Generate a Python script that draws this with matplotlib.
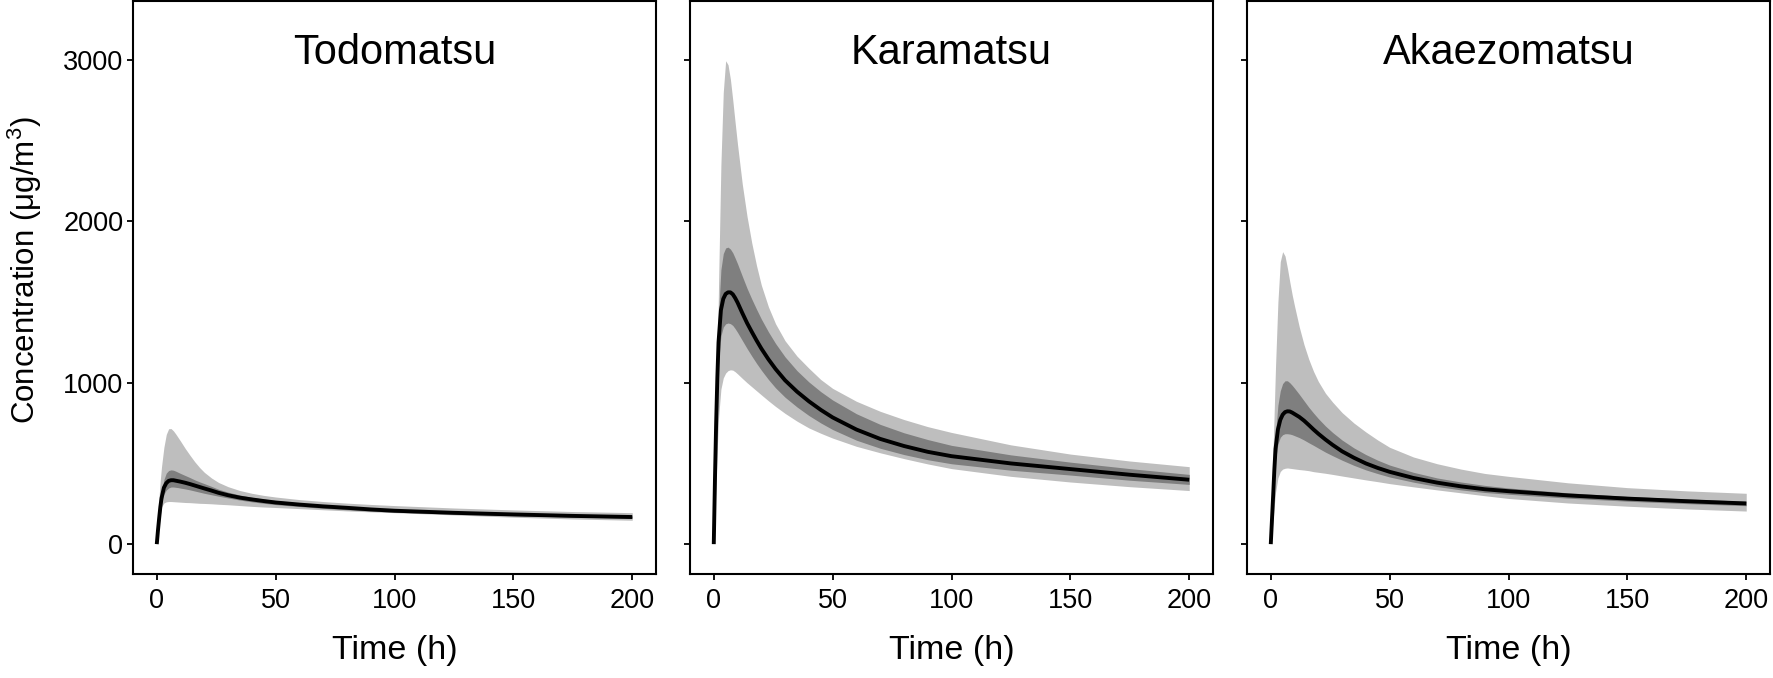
import matplotlib
matplotlib.use("Agg")
import matplotlib.pyplot as plt

plt.rcParams['font.family'] = ['Liberation Sans', 'DejaVu Sans']
plt.rcParams['mathtext.fontset'] = 'custom'
plt.rcParams['mathtext.rm'] = 'Liberation Sans'
plt.rcParams['mathtext.it'] = 'Liberation Sans:italic'

# ---------------- data ----------------
time_h = [0, 0.5, 1, 1.5, 2, 3, 4, 5, 6, 7, 8, 9, 10, 12, 14, 16, 18, 20, 23, 26, 30,
          35, 40, 45, 50, 60, 70, 80, 90, 100, 125, 150, 175, 200]

panels = ["Todomatsu", "Karamatsu", "Akaezomatsu"]

# Todomatsu
todo_median = [0, 85, 160, 230, 285, 350, 378, 392, 396, 396, 393, 390, 387, 380, 372, 363, 354, 345, 332, 318, 303,
               288, 277, 267, 258, 245, 234, 225, 215, 207, 194, 184, 175, 168]
todo_q75 =    [0, 92, 175, 255, 320, 400, 440, 456, 460, 458, 452, 445, 438, 425, 412, 398, 386, 375, 358, 340, 322,
               304, 290, 279, 270, 255, 243, 232, 223, 215, 202, 191, 182, 175]
todo_q25 =    [0, 78, 145, 205, 255, 310, 335, 348, 354, 354, 352, 350, 347, 342, 336, 329, 322, 315, 306, 297, 286,
               273, 262, 253, 245, 233, 222, 213, 205, 198, 186, 176, 168, 161]
todo_q95 =    [0, 150, 300, 400, 480, 600, 680, 715, 716, 702, 682, 660, 638, 592, 550, 510, 475, 445, 410, 382, 356,
               332, 315, 302, 292, 276, 264, 254, 246, 239, 224, 212, 202, 195]
todo_q05 =    [0, 60, 120, 180, 230, 255, 262, 264, 264, 263, 262, 261, 260, 258, 257, 255, 253, 252, 250, 247, 244,
               239, 234, 230, 227, 220, 213, 206, 200, 195, 181, 167, 156, 148]

# Karamatsu
kara_median = [0, 400, 750, 1030, 1250, 1450, 1520, 1550, 1560, 1560, 1548, 1525, 1497, 1432, 1370, 1315, 1262, 1212, 1145, 1085, 1015,
               945, 885, 832, 785, 710, 652, 608, 572, 545, 500, 465, 430, 399]
kara_q75 =    [0, 430, 820, 1150, 1420, 1700, 1800, 1835, 1840, 1828, 1805, 1772, 1737, 1660, 1585, 1518, 1455, 1395, 1315, 1243, 1160,
               1075, 1005, 945, 893, 808, 742, 690, 648, 612, 553, 508, 468, 432]
kara_q25 =    [0, 370, 690, 940, 1120, 1290, 1345, 1365, 1370, 1366, 1355, 1335, 1312, 1262, 1212, 1165, 1120, 1078, 1020, 968, 910,
               850, 797, 751, 710, 644, 594, 555, 523, 498, 458, 428, 396, 370]
kara_q95 =    [0, 350, 750, 1150, 1600, 2350, 2800, 2995, 2970, 2880, 2750, 2610, 2475, 2230, 2030, 1865, 1725, 1605, 1470, 1365, 1260,
               1165, 1090, 1020, 965, 885, 823, 772, 728, 692, 615, 558, 515, 480]
kara_q05 =    [0, 200, 400, 600, 780, 960, 1030, 1060, 1075, 1080, 1078, 1068, 1055, 1027, 1000, 975, 950, 925, 888, 853, 810,
               762, 720, 687, 657, 606, 566, 530, 497, 468, 420, 385, 356, 332]

# Akaezomatsu
akae_median = [0, 150, 300, 460, 590, 710, 770, 802, 818, 823, 822, 815, 806, 788, 765, 738, 710, 684, 648, 615, 575,
               535, 500, 472, 448, 410, 381, 358, 340, 328, 302, 282, 266, 252]
akae_q75 =    [0, 165, 330, 520, 680, 860, 950, 995, 1012, 1012, 1000, 984, 966, 928, 888, 848, 812, 778, 732, 692, 645,
               596, 555, 520, 490, 445, 410, 385, 364, 348, 318, 296, 280, 266]
akae_q25 =    [0, 135, 270, 400, 520, 620, 662, 678, 684, 684, 682, 678, 672, 660, 645, 628, 612, 595, 570, 548, 520,
               488, 460, 437, 416, 384, 357, 336, 320, 309, 285, 266, 251, 238]
akae_q95 =    [0, 300, 600, 850, 1100, 1500, 1750, 1812, 1785, 1710, 1625, 1545, 1475, 1345, 1235, 1145, 1070, 1008, 935, 880, 815,
               750, 695, 645, 600, 540, 498, 465, 438, 420, 380, 350, 330, 315]
akae_q05 =    [0, 75, 150, 240, 320, 410, 450, 465, 470, 472, 470, 468, 466, 462, 459, 455, 449, 445, 439, 432, 422,
               410, 398, 387, 375, 355, 336, 318, 300, 283, 255, 235, 218, 205]

series = {
    "Todomatsu": (todo_median, todo_q25, todo_q75, todo_q05, todo_q95),
    "Karamatsu": (kara_median, kara_q25, kara_q75, kara_q05, kara_q95),
    "Akaezomatsu": (akae_median, akae_q25, akae_q75, akae_q05, akae_q95),
}

x_ticks = [0, 50, 100, 150, 200]
y_ticks = [0, 1000, 2000, 3000]

# ---------------- figure ----------------
W, H = 1773, 678
fig = plt.figure(figsize=(W / 100, H / 100), dpi=100)

lefts = [133, 690, 1247]
pw = 523
top_px, bot_px = 1, 574

light = '#bebebe'
dark = '#7f7f7f'

for i, name in enumerate(panels):
    ax = fig.add_axes([lefts[i] / W, 1 - bot_px / H, pw / W, (bot_px - top_px) / H])
    med, q25, q75, q05, q95 = series[name]
    ax.fill_between(time_h, q05, q95, color=light, linewidth=0, zorder=1)
    ax.fill_between(time_h, q25, q75, color=dark, linewidth=0, zorder=2)
    ax.plot(time_h, med, color='black', linewidth=2.8, zorder=3,
            solid_joinstyle='round', solid_capstyle='butt')
    ax.set_xlim(-10, 210)
    ax.set_ylim(-185, 3365)
    ax.set_xticks(x_ticks)
    ax.set_yticks(y_ticks)
    ax.tick_params(axis='both', direction='out', length=4.5, width=1.3,
                   labelsize=19.5, colors='black')
    ax.tick_params(axis='x', pad=5.5)
    ax.tick_params(axis='y', pad=2.5)
    if i > 0:
        ax.set_yticklabels([])
    for sp in ax.spines.values():
        sp.set_linewidth(1.5)
        sp.set_color('black')
    ax.text(0.5, 0.909, name, transform=ax.transAxes, ha='center', va='center',
            fontsize=30, color='black')
    ax.set_xlabel('Time (h)', fontsize=24.5, labelpad=15)

fig.text(25 / W, 1 - 270 / H, 'Concentration (μg/m$^{3}$)', rotation=90,
         ha='center', va='center', fontsize=22.5)

fig.savefig('out.png', dpi=100)
